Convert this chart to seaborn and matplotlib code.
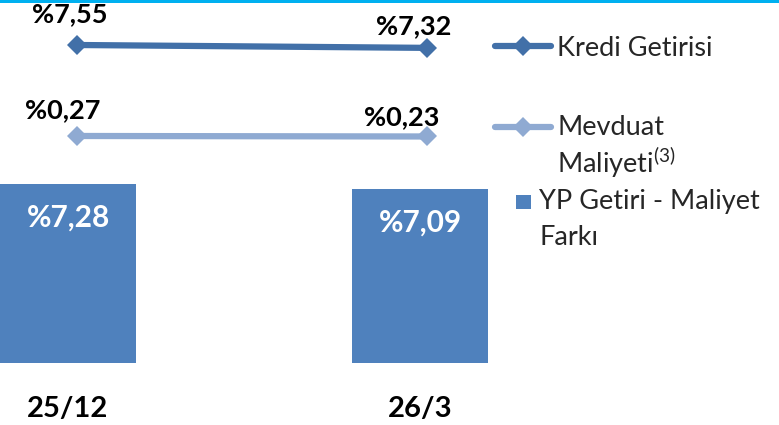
import numpy as np
import pandas as pd
import matplotlib
matplotlib.use("Agg")
import matplotlib.pyplot as plt
from matplotlib.lines import Line2D
from matplotlib.patches import Rectangle
import seaborn as sns

# veriler
donemler = ["25/12", "26/3"]
fark = [7.28, 7.09]
kredi_getirisi = [7.55, 7.32]
mevduat_maliyeti = [0.27, 0.23]
seriler = ["Kredi Getirisi", "Mevduat Maliyeti"]

renk_bar = "#4F81BD"
renk_kredi = "#4270A8"
renk_mevduat = "#8FAAD2"


def etiket(v):
    return "%" + f"{v:.2f}".replace(".", ",")


sns.set_theme(style="white")
plt.rcParams["font.family"] = ["Lato", "DejaVu Sans"]
plt.rcParams["mathtext.fontset"] = "custom"
plt.rcParams["mathtext.rm"] = "Lato"

W, H = 779, 425
fig = plt.figure(figsize=(W / 100, H / 100), dpi=100)


def fx(px):
    return px / W


def fy(py):
    return 1 - py / H


# bar ekseni
taban = 362.7
ax = fig.add_axes([0, fy(taban), fx(490), taban / H])
bar_df = pd.DataFrame({"donem": donemler, "fark": fark})
sns.barplot(data=bar_df, x="donem", y="fark", color=renk_bar, width=0.384,
            saturation=1, linewidth=0, ax=ax)
ax.set_xlim(-68 / 352, (490 - 68) / 352)
ax.set_ylim(0, taban / 24.55)
for s in ax.spines.values():
    s.set_visible(False)
ax.set_yticks([])
ax.set_xlabel("")
ax.set_ylabel("")
ax.tick_params(axis="x", length=0, pad=24, labelsize=21)
for t in ax.get_xticklabels():
    t.set_fontweight("bold")
    t.set_color("black")

for i, v in enumerate(fark):
    ax.annotate(etiket(v), (i, v), xytext=(0, -34 * 0.72), textcoords="offset points",
                ha="center", va="center", color="white", fontweight="bold", fontsize=21.5)

# cizgi ekseni
ax2 = fig.add_axes(ax.get_position().bounds, frameon=False)
line_df = pd.DataFrame({
    "pos": np.tile(np.arange(len(donemler)), len(seriler)),
    "deger": kredi_getirisi + mevduat_maliyeti,
    "seri": np.repeat(seriler, len(donemler)),
})
sns.lineplot(data=line_df, x="pos", y="deger", hue="seri",
             palette={seriler[0]: renk_kredi, seriler[1]: renk_mevduat},
             marker="D", markersize=10, markeredgewidth=0, linewidth=4.5,
             legend=False, ax=ax2)
ax2.set_xlim(-76.7 / 350.5, (490 - 76.7) / 350.5)
ax2.set_ylim(-17.87, 11.15)
ax2.axis("off")

ofsetler = [[(-7, -30.5), (-14, -22)], [(-14.5, -26), (-26, -19)]]
for seri_deger, ofs in zip([kredi_getirisi, mevduat_maliyeti], ofsetler):
    for i, v in enumerate(seri_deger):
        dx, dy = ofs[i]
        ax2.annotate(etiket(v), (i, v), xytext=(dx * 0.72, -dy * 0.72),
                     textcoords="offset points", ha="center", va="center",
                     fontweight="bold", fontsize=19.5, color="black")

# lejant
leg_fs = 19.5
for y, renk in [(46, renk_kredi), (127, renk_mevduat)]:
    fig.add_artist(Line2D([fx(495), fx(523), fx(551)], [fy(y)] * 3, color=renk,
                          lw=4.5, marker="D", markersize=10, markeredgewidth=0,
                          markevery=[1], solid_capstyle="round"))
fig.text(fx(557), fy(56), "Kredi Getirisi", va="baseline", fontsize=leg_fs)
fig.text(fx(557), fy(135), "Mevduat", va="baseline", fontsize=leg_fs)
fig.text(fx(557), fy(173), r"Maliyeti$^{\mathrm{(3)}}$", va="baseline", fontsize=leg_fs)
fig.add_artist(Rectangle((fx(516), fy(209)), fx(15), 14 / H,
                         transform=fig.transFigure, color=renk_bar, lw=0))
fig.text(fx(539), fy(209), "YP Getiri - Maliyet", va="baseline", fontsize=leg_fs)
fig.text(fx(539), fy(245), "Farkı", va="baseline", fontsize=leg_fs)

# ust cizgi
fig.add_artist(Rectangle((0, fy(2.5)), 1, 2.5 / H, transform=fig.transFigure,
                         color="#00B0F0", lw=0))

fig.savefig("out.png", dpi=100)
